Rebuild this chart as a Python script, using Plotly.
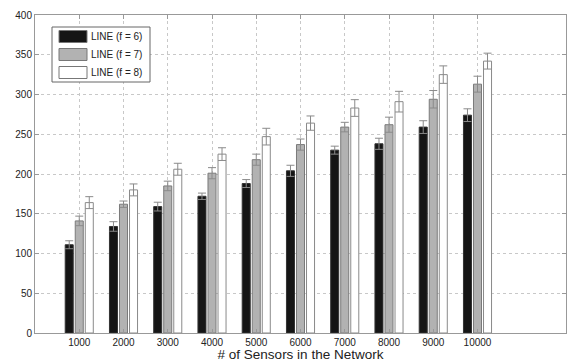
import plotly.graph_objects as go

sensors = [1000, 2000, 3000, 4000, 5000, 6000, 7000, 8000, 9000, 10000]
line_f6 = [111, 134, 159, 172, 188, 204, 230, 238, 259, 274]
line_f7 = [141, 162, 185, 201, 218, 237, 259, 262, 294, 313]
line_f8 = [164, 180, 206, 225, 247, 264, 283, 291, 325, 342]
err_f6 = [5, 6, 5.5, 4, 5, 7, 5, 7, 8, 8]
err_f7 = [6, 4, 6, 7, 7, 7, 6, 9.5, 11, 10]
err_f8 = [7.5, 7.5, 7.5, 8, 10.5, 9, 10.5, 13, 11, 10]
names = ["LINE (f = 6)", "LINE (f = 7)", "LINE (f = 8)"]

fills = ["#151515", "#b2b2b2", "#ffffff"]
edges = ["#333333", "#7a7a7a", "#8a8a8a"]
series = list(zip(names, [line_f6, line_f7, line_f8], [err_f6, err_f7, err_f8], fills, edges))

W, H = 568, 362
ML, MR, MT, MB = 35, 2, 15, 29
PW, PH = W - ML - MR, H - MT - MB

def px_x(p):
    return (p - ML) / PW

def px_y(p):
    return (H - MB - p) / PH

fig = go.Figure()
for name, vals, errs, fill, edge in series:
    fig.add_trace(go.Bar(
        x=sensors, y=vals, name=name, showlegend=False,
        marker=dict(color=fill, line=dict(color=edge, width=1)),
        error_y=dict(type="data", array=errs, visible=True,
                     color="#8a8a8a", thickness=1, width=4),
    ))

# legend box drawn in paper coordinates (MATLAB-style wide swatches)
shapes = [dict(type="rect", xref="paper", yref="paper",
               x0=px_x(52), x1=px_x(150), y0=px_y(82), y1=px_y(27),
               line=dict(color="#666666", width=1), fillcolor="white", layer="above")]
annotations = []
for i, (name, fill, edge) in enumerate(zip(names, fills, edges)):
    cy = 36.5 + 18 * i
    shapes.append(dict(type="rect", xref="paper", yref="paper",
                       x0=px_x(59), x1=px_x(87), y0=px_y(cy + 6), y1=px_y(cy - 6),
                       line=dict(color="#777777", width=1), fillcolor=fill, layer="above"))
    annotations.append(dict(xref="paper", yref="paper", x=px_x(89), y=px_y(cy),
                            xanchor="left", yanchor="middle", showarrow=False,
                            text=name, font=dict(size=10, color="#222222")))

fig.update_layout(
    width=W, height=H,
    margin=dict(l=ML, r=MR, t=MT, b=MB),
    paper_bgcolor="white", plot_bgcolor="white",
    barmode="group", bargap=0.32, bargroupgap=0.2,
    font=dict(family="Liberation Sans, Arial, sans-serif", color="#222222", size=10),
    shapes=shapes, annotations=annotations,
    showlegend=False,
)
fig.update_xaxes(
    range=[0, 12000], tickvals=sensors, ticktext=[str(s) for s in sensors],
    showgrid=True, gridcolor="#c8c8c8", griddash="dot", gridwidth=1,
    showline=True, linecolor="#999999", linewidth=1, mirror="ticks",
    ticks="inside", ticklen=4, tickcolor="#999999",
    tickfont=dict(size=10, color="#222222"),
    title=dict(text="# of Sensors in the Network", font=dict(size=13.5, color="#222222"), standoff=3),
    zeroline=False, automargin=False,
)
fig.update_yaxes(
    range=[0, 400], dtick=50,
    showgrid=True, gridcolor="#c8c8c8", griddash="dot", gridwidth=1,
    showline=True, linecolor="#999999", linewidth=1, mirror="ticks",
    ticks="inside", ticklen=4, tickcolor="#999999",
    tickfont=dict(size=10, color="#222222"),
    zeroline=False,
)

fig.write_html("out.html")
